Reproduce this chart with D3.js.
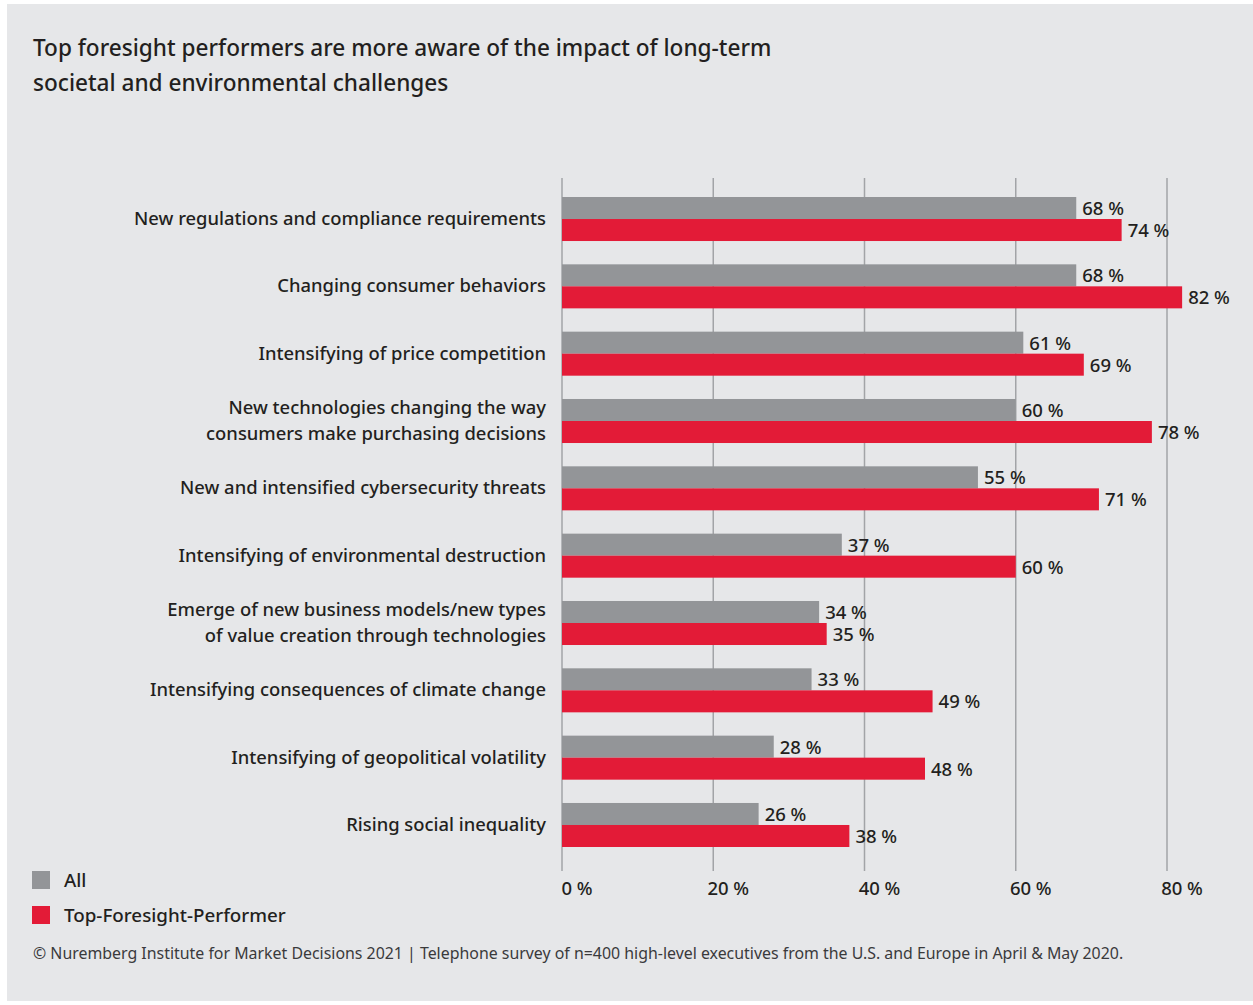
<!DOCTYPE html>
<html>
<head>
<meta charset="utf-8">
<script src="https://cdn.jsdelivr.net/npm/d3@7"></script>
<style>
  html, body { margin: 0; padding: 0; background: #ffffff; }
  svg { display: block; }
  text { font-family: "Noto Sans", "Open Sans", sans-serif; fill: #231f20; }
</style>
</head>
<body>
<div id="chart"></div>
<script>
const titleLines = [
  "Top foresight performers are more aware of the impact of long-term",
  "societal and environmental challenges"
];
const categories = [
  ["New regulations and compliance requirements"],
  ["Changing consumer behaviors"],
  ["Intensifying of price competition"],
  ["New technologies changing the way", "consumers make purchasing decisions"],
  ["New and intensified cybersecurity threats"],
  ["Intensifying of environmental destruction"],
  ["Emerge of new business models/new types", "of value creation through technologies"],
  ["Intensifying consequences of climate change"],
  ["Intensifying of geopolitical volatility"],
  ["Rising social inequality"]
];
const seriesNames = ["All", "Top-Foresight-Performer"];
const allValues = [68, 68, 61, 60, 55, 37, 34, 33, 28, 26];
const topValues = [74, 82, 69, 78, 71, 60, 35, 49, 48, 38];
const tickValues = [0, 20, 40, 60, 80];
const tickLabels = ["0 %", "20 %", "40 %", "60 %", "80 %"];
const footnote = "© Nuremberg Institute for Market Decisions 2021 | Telephone survey of n=400 high-level executives from the U.S. and Europe in April & May 2020.";

const colors = { "All": "#939598", "Top-Foresight-Performer": "#e31b37" };

const W = 1253, H = 1005;
const svg = d3.select("#chart").append("svg").attr("width", W).attr("height", H);

svg.append("rect").attr("x", 7).attr("y", 4).attr("width", W - 7).attr("height", 997).attr("fill", "#e6e7e9");

// title
svg.append("g").selectAll("text").data(titleLines).join("text")
  .attr("x", 33).attr("y", (d, i) => 56 + i * 35)
  .attr("font-size", 22.6).attr("font-weight", 500)
  .text(d => d);

const x = d3.scaleLinear().domain([0, 80]).range([562, 1167]);
const keys = categories.map((c, i) => i);
const y = d3.scaleBand().domain(keys).range([197, 847]).paddingInner(1 - 44 / 67.3).paddingOuter(0);
const ySub = d3.scaleBand().domain(seriesNames).range([0, y.bandwidth()]);

// gridlines
svg.append("g").selectAll("line").data(tickValues).join("line")
  .attr("x1", d => x(d)).attr("x2", d => x(d))
  .attr("y1", 178).attr("y2", 871)
  .attr("stroke", "#a2a4a7").attr("stroke-width", 1.5);

// axis tick labels
svg.append("g").selectAll("text").data(tickValues).join("text")
  .attr("x", d => x(d) + 15).attr("y", 895)
  .attr("text-anchor", "middle").attr("font-size", 18.5).attr("font-weight", 500)
  .text((d, i) => tickLabels[i]);

const rows = keys.map(i => ({ i, vals: [
  { s: "All", v: allValues[i] },
  { s: "Top-Foresight-Performer", v: topValues[i] }
]}));

const g = svg.append("g").selectAll("g").data(rows).join("g")
  .attr("transform", d => `translate(0,${y(d.i)})`);

g.selectAll("rect").data(d => d.vals).join("rect")
  .attr("x", x(0)).attr("y", d => ySub(d.s))
  .attr("width", d => x(d.v) - x(0)).attr("height", ySub.bandwidth())
  .attr("fill", d => colors[d.s]);

g.selectAll("text.val").data(d => d.vals).join("text").attr("class", "val")
  .attr("x", d => x(d.v) + 6).attr("y", d => ySub(d.s) + ySub.bandwidth() / 2 + 7)
  .attr("font-size", 18.5).attr("font-weight", 500)
  .text(d => d.v + " %");

// category labels
g.each(function(d) {
  const lines = categories[d.i];
  const cy = y.bandwidth() / 2;
  d3.select(this).selectAll("text.cat").data(lines).join("text").attr("class", "cat")
    .attr("x", 546).attr("text-anchor", "end")
    .attr("y", (l, j) => cy + 6 + (j - (lines.length - 1) / 2) * 26)
    .attr("font-size", 18.4).attr("font-weight", 500)
    .text(l => l);
});

// legend
const leg = svg.append("g").selectAll("g").data(seriesNames).join("g")
  .attr("transform", (d, i) => `translate(32,${871 + i * 35})`);
leg.append("rect").attr("width", 18).attr("height", 18).attr("fill", d => colors[d]);
leg.append("text").attr("x", 32).attr("y", 16).attr("font-size", 18.8).attr("font-weight", 500).text(d => d);

// footnote
svg.append("text").attr("x", 33).attr("y", 959).attr("font-size", 15.9)
  .style("fill", "#3a3a3c").text(footnote);
</script>
</body>
</html>
